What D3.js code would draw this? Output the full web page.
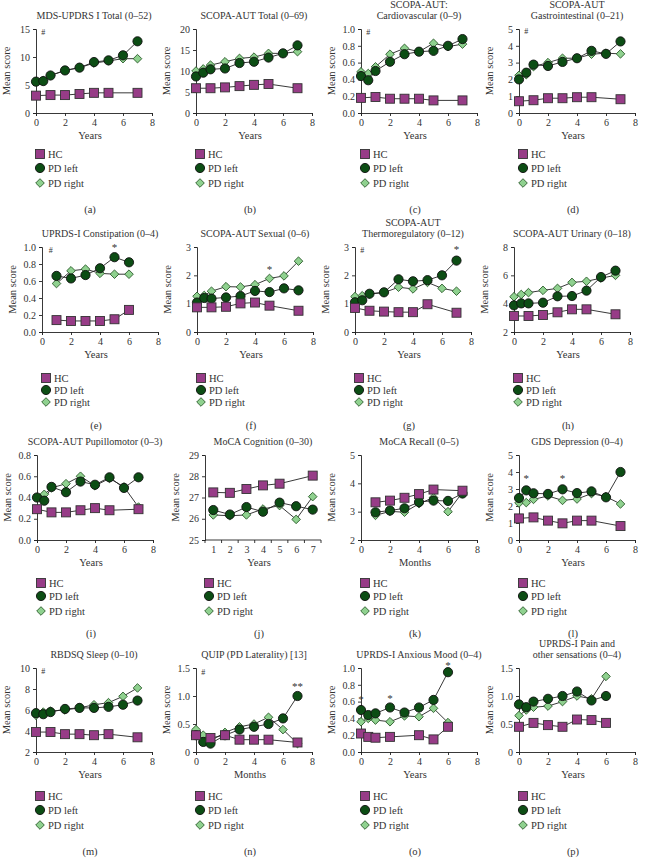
<!DOCTYPE html>
<html><head><meta charset="utf-8">
<script src="https://cdn.jsdelivr.net/npm/d3@7"></script>
<style>
body{margin:0;background:#fff}
text{font-family:"Liberation Serif","Times New Roman",serif;fill:#333;font-weight:normal}
</style>
</head><body>
<svg id="c" width="645" height="860"></svg>
<script>
// ---------- DATA ----------
const seriesNames = ["HC", "PD left", "PD right"];
const xPD = [0, 0.5, 1, 2, 3, 4, 5, 6, 7];
const xHC = [0, 1, 2, 3, 4, 5, 7];
const x1to6 = [1, 2, 3, 4, 5, 6];
const x1to7 = [1, 2, 3, 4, 5, 6, 7];
const x1to7noSix = [1, 2, 3, 4, 5, 7];
const xHCo = [0, 0.5, 1, 2, 4, 5, 6];
const x0to6 = [0, 0.5, 1, 2, 3, 4, 5, 6];
const xHCp = [0, 1, 2, 3, 4, 5, 6];

// (a) MDS-UPDRS I Total
const aHC = [3.1, 3.2, 3.2, 3.4, 3.6, 3.6, 3.6];
const aLeft = [5.6, 5.7, 6.7, 7.6, 8.1, 9.1, 9.4, 10.3, 12.8];
const aRight = [5.6, 5.8, 6.7, 7.6, 8.1, 8.9, 9.3, 9.7, 9.7];
// (b) SCOPA-AUT Total
const bHC = [5.9, 5.9, 6.1, 6.4, 6.7, 6.9, 5.9];
const bLeft = [8.7, 9.6, 10.4, 10.6, 11.9, 12.2, 13.2, 14.2, 16.1];
const bRight = [10.0, 10.5, 11.4, 12.2, 13.0, 13.3, 14.2, 14.2, 14.6];
// (c) Cardiovascular
const cHC = [0.18, 0.19, 0.17, 0.17, 0.17, 0.15, 0.15];
const cLeft = [0.44, 0.39, 0.50, 0.61, 0.70, 0.73, 0.74, 0.80, 0.88];
const cRight = [0.49, 0.47, 0.55, 0.70, 0.77, 0.73, 0.83, 0.79, 0.82];
// (d) Gastrointestinal
const dHC = [0.70, 0.76, 0.88, 0.88, 0.94, 0.94, 0.82];
const dLeft = [2.0, 2.4, 2.88, 2.8, 3.04, 3.26, 3.7, 3.52, 4.26];
const dRight = [2.24, 2.28, 2.76, 3.0, 3.26, 3.26, 3.5, 3.56, 3.52];
// (e) Constipation
const eHC = [0.14, 0.13, 0.13, 0.13, 0.15, 0.26];
const eLeft = [0.66, 0.63, 0.67, 0.75, 0.88, 0.82];
const eRight = [0.57, 0.72, 0.74, 0.69, 0.68, 0.68];
// (f) Sexual
const fHC = [0.87, 0.87, 0.89, 1.01, 1.04, 0.93, 0.75];
const fLeft = [1.04, 1.2, 1.18, 1.22, 1.27, 1.45, 1.41, 1.54, 1.47];
const fRight = [1.26, 1.29, 1.44, 1.6, 1.59, 1.67, 1.89, 1.98, 2.5];
// (g) Thermoregulatory
const gHC = [0.85, 0.75, 0.72, 0.70, 0.70, 0.98, 0.68];
const gLeft = [1.05, 1.12, 1.35, 1.4, 1.86, 1.79, 1.83, 2.0, 2.52];
const gRight = [1.25, 1.28, 1.34, 1.39, 1.58, 1.52, 1.75, 1.54, 1.44];
// (h) Urinary
const hHC = [3.13, 3.13, 3.2, 3.39, 3.6, 3.6, 3.25];
const hLeft = [3.88, 4.02, 4.02, 4.07, 4.52, 4.54, 4.92, 5.88, 6.33];
const hRight = [4.49, 4.65, 4.78, 4.94, 5.08, 5.5, 5.58, 5.8, 6.0];
// (i) Pupillomotor
const iHC = [0.29, 0.26, 0.26, 0.28, 0.30, 0.28, 0.29];
const iLeft = [0.40, 0.37, 0.50, 0.45, 0.55, 0.52, 0.59, 0.49, 0.59];
const iRight = [0.40, 0.43, 0.49, 0.53, 0.60, 0.51, 0.58, 0.50, 0.31];
// (j) MoCA Cognition
const jHC = [27.24, 27.22, 27.4, 27.57, 27.65, 28.03];
const jLeft = [26.41, 26.2, 26.55, 26.33, 26.76, 26.59, 26.43];
const jRight = [26.18, 26.14, 26.18, 26.46, 26.62, 25.97, 27.04];
// (k) MoCA Recall
const kHC = [3.33, 3.39, 3.49, 3.62, 3.78, 3.74];
const kLeft = [2.98, 3.04, 3.12, 3.34, 3.39, 3.38, 3.64];
const kRight = [2.87, 3.01, 2.98, 3.28, 3.5, 3.0, 3.68];
// (l) GDS Depression
const lHC = [1.27, 1.33, 1.14, 0.98, 1.14, 1.14, 0.82];
const lLeft = [2.47, 2.92, 2.75, 2.71, 2.98, 2.76, 2.86, 2.51, 4.0];
const lRight = [2.18, 2.2, 2.39, 2.59, 2.33, 2.41, 2.73, 2.55, 2.12];
// (m) RBDSQ Sleep
const mHC = [3.9, 3.9, 3.7, 3.7, 3.6, 3.7, 3.4];
const mLeft = [5.7, 5.6, 5.8, 6.1, 6.2, 6.2, 6.3, 6.5, 6.9];
const mRight = [5.5, 5.8, 5.9, 6.0, 6.2, 6.5, 6.7, 7.3, 8.1];
// (n) QUIP
const nHC = [0.30, 0.25, 0.30, 0.22, 0.22, 0.22, 0.17];
const nLeft = [0.30, 0.18, 0.15, 0.30, 0.40, 0.45, 0.50, 0.60, 1.0];
const nRight = [0.40, 0.30, 0.20, 0.35, 0.45, 0.50, 0.62, 0.40, 0.15];
// (o) Anxious Mood
const oHC = [0.22, 0.18, 0.17, 0.18, 0.20, 0.15, 0.30];
const oLeft = [0.50, 0.44, 0.46, 0.53, 0.47, 0.53, 0.62, 0.95];
const oRight = [0.36, 0.40, 0.38, 0.36, 0.43, 0.42, 0.52, 0.35];
// (p) Pain
const pHC = [0.45, 0.52, 0.48, 0.45, 0.58, 0.57, 0.52];
const pLeft = [0.85, 0.80, 0.90, 0.95, 1.0, 1.08, 0.92, 1.0];
const pRight = [0.65, 0.75, 0.80, 0.82, 0.90, 1.0, 0.95, 1.35];

const titles = [
  ["MDS-UPDRS I Total (0–52)"], ["SCOPA-AUT Total (0–69)"], ["SCOPA-AUT:", "Cardiovascular (0–9)"], ["SCOPA-AUT", "Gastrointestinal (0–21)"],
  ["UPRDS-I Constipation (0–4)"], ["SCOPA-AUT Sexual (0–6)"], ["SCOPA-AUT", "Thermoregulatory (0–12)"], ["SCOPA-AUT Urinary (0–18)"],
  ["SCOPA-AUT Pupillomotor (0–3)"], ["MoCA Cognition (0–30)"], ["MoCA Recall (0–5)"], ["GDS Depression (0–4)"],
  ["RBDSQ Sleep (0–10)"], ["QUIP (PD Laterality) [13]"], ["UPRDS-I Anxious Mood (0–4)"], ["UPRDS-I Pain and", "other sensations (0–4)"]
];
const letters = ["(a)","(b)","(c)","(d)","(e)","(f)","(g)","(h)","(i)","(j)","(k)","(l)","(m)","(n)","(o)","(p)"];
const xLabels = ["Years","Years","Years","Years","Years","Years","Years","Years","Years","Years","Months","Years","Years","Months","Years","Years"];
const yDomains = [[0,15],[0,20],[0,1],[0,5],[0,1],[0,3],[0,3],[2,8],[0,0.8],[25,29],[2,5],[0,5],[2,10],[0,1.5],[0,1],[0,1.5]];
const yTickSteps = [5,5,0.2,1,0.2,1,1,2,0.2,1,1,1,2,0.5,0.2,0.5];
const annotations = [
  [{x:0.5,y:14,t:"#"}], [], [{x:0.5,y:0.93,t:"#"}], [{x:0.5,y:4.7,t:"#"}],
  [{x:0.6,y:0.93,t:"#"},{x:5,y:0.95,t:"*"}], [{x:5,y:2.1,t:"*"}], [{x:0.5,y:2.8,t:"#"},{x:7,y:2.8,t:"*"}], [],
  [], [], [], [{x:0.5,y:3.4,t:"*"},{x:3,y:3.4,t:"*"}],
  [{x:0.5,y:9.4,t:"#"}], [{x:0.5,y:1.38,t:"#"},{x:7,y:1.1,t:"**"}], [{x:0,y:0.58,t:"*"},{x:2,y:0.6,t:"*"},{x:6,y:0.99,t:"*"}], []
];
const seriesX = [
  [xHC,xPD,xPD],[xHC,xPD,xPD],[xHC,xPD,xPD],[xHC,xPD,xPD],
  [x1to6,x1to6,x1to6],[xHC,xPD,xPD],[xHC,xPD,xPD],[xHC,xPD,xPD],
  [xHC,xPD,xPD],[x1to7noSix,x1to7,x1to7],[x1to7noSix,x1to7,x1to7],[xHC,xPD,xPD],
  [xHC,xPD,xPD],[xHC,xPD,xPD],[xHCo,x0to6,x0to6],[xHCp,x0to6,x0to6]
];
const seriesY = [
  [aHC,aLeft,aRight],[bHC,bLeft,bRight],[cHC,cLeft,cRight],[dHC,dLeft,dRight],
  [eHC,eLeft,eRight],[fHC,fLeft,fRight],[gHC,gLeft,gRight],[hHC,hLeft,hRight],
  [iHC,iLeft,iRight],[jHC,jLeft,jRight],[kHC,kLeft,kRight],[lHC,lLeft,lRight],
  [mHC,mLeft,mRight],[nHC,nLeft,nRight],[oHC,oLeft,oRight],[pHC,pLeft,pRight]
];
const categoricalX = [false,false,false,false,false,false,false,false,false,true,false,false,false,false,false,false];
const jTicks = [1,2,3,4,5,6,7];

// ---------- LAYOUT ----------
const plotLefts = [36,196,361,519, 42,197,355,514, 37,205,361,519, 36,196,361,519];
const plotW = 116;
const rows = [
  {top:29, bottom:113, leg:[154,168,183], letter:209},
  {top:247, bottom:332, leg:[378,390,402], letter:425},
  {top:455, bottom:540, leg:[583,596,611], letter:633},
  {top:668, bottom:752, leg:[796,810,825], letter:851}
];
const fills = ["#973c87", "#0c4d14", "#8fd18f"];
const strokes = ["#333", "#111", "#2a5a2a"];

const svg = d3.select("#c");

function drawMarker(g, type, x, y) {
  if (type === 0) {
    g.append("rect").attr("x", x-4.5).attr("y", y-4.5).attr("width", 9).attr("height", 9)
      .attr("fill", fills[0]).attr("stroke", strokes[0]).attr("stroke-width", 0.9);
  } else if (type === 1) {
    g.append("circle").attr("cx", x).attr("cy", y).attr("r", 4.6)
      .attr("fill", fills[1]).attr("stroke", strokes[1]).attr("stroke-width", 0.9);
  } else {
    g.append("path").attr("d", `M${x},${y-4.3}L${x+4.3},${y}L${x},${y+4.3}L${x-4.3},${y}Z`)
      .attr("fill", fills[2]).attr("stroke", strokes[2]).attr("stroke-width", 0.9);
  }
}

titles.forEach((title, p) => {
  const row = rows[Math.floor(p/4)];
  const left = plotLefts[p], right = left + plotW;
  const g = svg.append("g");
  const x = categoricalX[p]
    ? d3.scaleLinear().domain([0.5, 7.5]).range([left, right])
    : d3.scaleLinear().domain([0, 8]).range([left, right]);
  const y = d3.scaleLinear().domain(yDomains[p]).range([row.bottom, row.top]);
  const step = yTickSteps[p];
  const yt = d3.range(yDomains[p][0], yDomains[p][1] + step/2, step);
  const fmt = v => {
    if (step < 1 && step !== 0.5) return d3.format(".1f")(v);
    if (step === 0.5) return v === 0 ? "0" : d3.format(".1f")(v);
    return d3.format("d")(v);
  };

  const yAxis = d3.axisLeft(y).tickValues(yt).tickFormat(fmt).tickSize(3).tickPadding(3);
  const xAxis = d3.axisBottom(x).tickValues(categoricalX[p] ? jTicks : [0,2,4,6,8]).tickFormat(d3.format("d")).tickSize(3).tickPadding(3);
  const ya = g.append("g").attr("transform", `translate(${left},0)`).call(yAxis);
  const xa = g.append("g").attr("transform", `translate(0,${row.bottom})`).call(xAxis);
  [ya, xa].forEach(a => {
    a.attr("font-family", null);
    a.select(".domain").attr("stroke", "#222").attr("stroke-width", 0.9);
    a.selectAll(".tick line").attr("stroke", "#222").attr("stroke-width", 0.9);
    a.selectAll("text").attr("font-size", 10).attr("fill", "#333")
      .style("font-family", '"Liberation Serif",serif');
  });
  if (categoricalX[p]) {
    xa.selectAll(".tick line").remove();
    xa.select(".domain").attr("d", `M${left},0H${right}`);
    xa.selectAll(".edge").data(d3.range(0.5, 8, 1)).enter().append("line")
      .attr("x1", d => x(d)).attr("x2", d => x(d)).attr("y1", 0).attr("y2", 3)
      .attr("stroke", "#222").attr("stroke-width", 0.9);
  }

  const tl = title.length;
  title.forEach((line, i) => {
    g.append("text").attr("x", (left+right)/2).attr("y", row.top - 10 - (tl-1-i)*11)
      .attr("text-anchor", "middle").attr("font-size", 10).text(line);
  });
  g.append("text").attr("transform", `translate(${left-26},${(row.top+row.bottom)/2}) rotate(-90)`)
    .attr("text-anchor", "middle").attr("font-size", 10.5).text("Mean score");
  g.append("text").attr("x", (left+right)/2 - 4).attr("y", row.bottom + 26)
    .attr("text-anchor", "middle").attr("font-size", 10.5).text(xLabels[p]);

  const line = d3.line().x(d => x(d[0])).y(d => y(d[1]));
  [0,1,2].forEach(s => {
    const pts = seriesX[p][s].map((xv, i) => [xv, seriesY[p][s][i]]);
    g.append("path").attr("d", line(pts)).attr("fill", "none").attr("stroke", "#222").attr("stroke-width", 0.9);
  });
  [2,1,0].forEach(s => {
    const pts = seriesX[p][s].map((xv, i) => [xv, seriesY[p][s][i]]);
    pts.forEach(d => drawMarker(g, s, x(d[0]), y(d[1])));
  });
  annotations[p].forEach(a => {
    g.append("text").attr("x", x(a.x)).attr("y", y(a.y))
      .attr("text-anchor", "middle").attr("font-size", a.t === "#" ? 8 : 11).text(a.t);
  });
  seriesNames.forEach((nm, s) => {
    drawMarker(g, s, left + 4, row.leg[s]);
    g.append("text").attr("x", left + 12).attr("y", row.leg[s] + 3.5).attr("font-size", 10.5).text(nm);
  });
  g.append("text").attr("x", (left+right)/2 - 4).attr("y", row.letter + 3.5)
    .attr("text-anchor", "middle").attr("font-size", 10.5).text(letters[p]);
});
</script>
</body></html>
